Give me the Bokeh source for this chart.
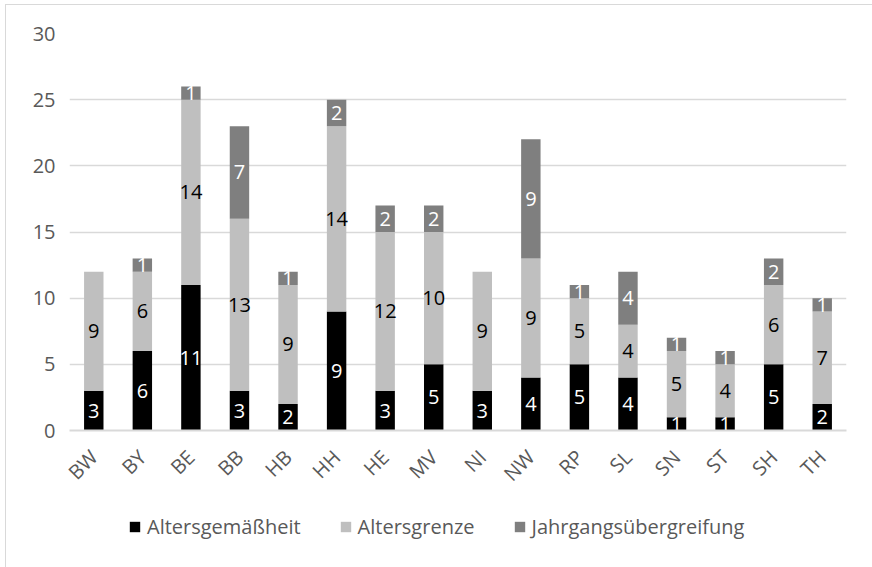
import math
from bokeh.plotting import figure
from bokeh.layouts import column
from bokeh.models import ColumnDataSource, Legend, LegendItem, FactorRange
from bokeh.core.properties import value
from bokeh.embed import file_html
from bokeh.resources import INLINE

states = ["BW", "BY", "BE", "BB", "HB", "HH", "HE", "MV", "NI", "NW", "RP", "SL", "SN", "ST", "SH", "TH"]
altersgemaessheit = [3, 6, 11, 3, 2, 9, 3, 5, 3, 4, 5, 4, 1, 1, 5, 2]
altersgrenze = [9, 6, 14, 13, 9, 14, 12, 10, 9, 9, 5, 4, 5, 4, 6, 7]
jahrgang = [0, 1, 1, 7, 1, 2, 2, 2, 0, 9, 1, 4, 1, 1, 2, 1]
series_names = ["Altersgemäßheit", "Altersgrenze", "Jahrgangsübergreifung"]
colors = ["#000000", "#BFBFBF", "#7F7F7F"]
label_colors = ["#FFFFFF", "#000000", "#FFFFFF"]
FONT = "Open Sans"
FS = "20px"
GRID = "#D9D9D9"
TXT = "#595959"

src = ColumnDataSource(dict(x=states, a=altersgemaessheit, b=altersgrenze, c=jahrgang))

p = figure(x_range=FactorRange(*states, range_padding=0), y_range=(0, 30),
           width=866, height=494, output_backend="svg", toolbar_location=None,
           min_border_left=63, min_border_right=26, min_border_top=28, min_border_bottom=62)
p.x_range.range_padding = 0

rs = p.vbar_stack(["a", "b", "c"], x="x", width=0.4, color=colors, line_color=None, source=src)

# segment labels
series = [altersgemaessheit, altersgrenze, jahrgang]
for si, vals in enumerate(series):
    xs, ys, ts = [], [], []
    for i, st in enumerate(states):
        v = vals[i]
        if v == 0:
            continue
        bottom = sum(series[k][i] for k in range(si))
        xs.append(st)
        ys.append(bottom + v / 2)
        ts.append(str(v))
    p.text(x=xs, y=ys, text=ts, text_font=value(FONT), text_font_size=FS,
           text_color=label_colors[si], text_align="center", text_baseline="middle")

p.outline_line_color = None
p.background_fill_color = "white"
p.border_fill_color = "white"
p.xgrid.grid_line_color = None
p.ygrid.grid_line_color = GRID
p.ygrid.grid_line_width = 1.3

p.yaxis.ticker = [0, 5, 10, 15, 20, 25, 30]
p.yaxis.axis_line_color = None
p.yaxis.major_tick_line_color = None
p.yaxis.minor_tick_line_color = None
p.yaxis.major_label_text_font = FONT
p.yaxis.major_label_text_font_size = FS
p.yaxis.major_label_text_color = TXT
p.yaxis.major_label_standoff = 8

p.xaxis.axis_line_color = GRID
p.xaxis.axis_line_width = 2
p.xaxis.major_tick_line_color = None
p.xaxis.minor_tick_line_color = None
p.xaxis.major_label_orientation = math.pi / 4
p.xaxis.major_label_text_font = FONT
p.xaxis.major_label_text_font_size = FS
p.xaxis.major_label_text_color = TXT
p.xaxis.major_label_standoff = 17

# legend strip (hidden copies of the stacked bars provide the legend swatches)
p2 = figure(width=866, height=68, x_range=FactorRange(*states), y_range=(0, 30), output_backend="svg",
            toolbar_location=None, min_border=0, x_axis_location=None, y_axis_location=None)
p2.grid.visible = False
p2.outline_line_color = None
p2.background_fill_color = "white"
hidden = p2.vbar_stack(["a", "b", "c"], x="x", width=0.4, color=colors, line_color=None, source=src)
for r in hidden:
    r.visible = False
legend = Legend(items=[LegendItem(label=series_names[i], renderers=[hidden[i]]) for i in range(3)],
                orientation="horizontal", location=(59, 27),
                label_text_font=FONT, label_text_font_size=FS, label_text_color=TXT,
                glyph_width=13, glyph_height=13, label_standoff=6, spacing=38,
                inactive_fill_alpha=0,
                border_line_color=None, background_fill_alpha=0, padding=0, margin=0)
p2.add_layout(legend, "center")

layout = column(p, p2, spacing=0)
layout.styles = {"border-left": "1px solid #D9D9D9", "border-top": "1px solid #D9D9D9",
                 "margin-left": "5px", "margin-top": "4px"}

open("out.html", "w").write(file_html(layout, INLINE))
